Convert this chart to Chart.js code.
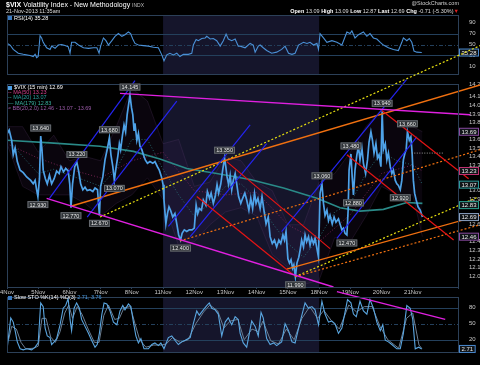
<!DOCTYPE html>
<html><head><meta charset="utf-8">
<script src="https://cdn.jsdelivr.net/npm/chart.js@4.4.0/dist/chart.umd.min.js"></script>
<style>
html,body{margin:0;padding:0;background:#000;width:480px;height:365px;overflow:hidden;font-family:"Liberation Sans",Arial,sans-serif;}
.c{position:absolute;left:0;}
.t{position:absolute;white-space:nowrap;color:#fff;z-index:10;line-height:1;}
.ico{display:inline-block;width:4px;height:4px;margin-right:2px;vertical-align:middle;}
</style></head><body>
<div class="c" style="top:0;z-index:1"><canvas id="rsi" width="480" height="86"></canvas></div>
<div class="c" style="top:0;z-index:2"><canvas id="price" width="480" height="297"></canvas></div>
<div class="c" style="top:280px;z-index:3"><canvas id="sto" width="480" height="85"></canvas></div>

<div class="t" style="left:6px;top:1px;font-size:7px;"><b>$VIX</b> Volatility Index - New Methodology <span style="font-size:5px;color:#bbb">INDX</span></div>
<div class="t" style="left:6px;top:9px;font-size:5.5px;color:#ddd;">21-Nov-2013 11:35am</div>
<div class="t" style="right:21px;top:1px;font-size:5.5px;color:#ccc;">@StockCharts.com</div>
<div class="t" style="right:21px;top:8.5px;font-size:5.5px;color:#ddd;"><b style="color:#fff">Open</b> 13.09 <b style="color:#fff">High</b> 13.09 <b style="color:#fff">Low</b> 12.87 <b style="color:#fff">Last</b> 12.69 <b style="color:#fff">Chg</b> -0.71 (-5.30%)<span style="color:#e02020">&#9660;</span></div>

<div class="t" style="left:8px;top:15.5px;font-size:5.5px;"><span class="ico" style="background:#3a7ac0"></span>RSI(14) 35.28</div>

<div class="t" style="left:8px;top:85px;font-size:5.5px;line-height:5.2px;">
<div><span class="ico" style="background:#4a9ee6"></span>$VIX (15 min) 12.69</div>
<div style="color:#d0408a">-- MA(50) 13.23</div>
<div style="color:#2aa0a0">-- MA(20) 13.07</div>
<div style="color:#3ab0a0">&#8212; MA(179) 12.83</div>
<div style="color:#9a5aa8">&#8776; BB(20,2.0) 12.46 - 13.07 - 13.69</div>
</div>

<div class="t" style="left:8px;top:295px;font-size:5.5px;"><span class="ico" style="background:#3a7ac0"></span>Slow STO %K(14) %D(3) <span style="color:#4a9ee6">2.71, 3.76</span></div>

<script>
const FONT = '"Liberation Sans", Arial, sans-serif';

// ---------- DATA ----------
const xLabels = ['4Nov','5Nov','6Nov','7Nov','8Nov','11Nov','12Nov','13Nov','14Nov','15Nov','18Nov','19Nov','20Nov','21Nov','22Nov'];
const shadeDays = [5, 10];

const vixPrice = [[0.01,13.67],[0.07,13.71],[0.15,13.59],[0.20,13.42],[0.26,13.50],[0.33,13.34],[0.42,13.24],[0.52,13.21],[0.63,13.16],[0.76,13.12],[0.84,13.08],[0.90,13.12],[0.95,13.01],[0.99,12.93],[1.04,13.14],[1.08,13.64],[1.12,13.48],[1.16,13.24],[1.23,13.14],[1.29,13.08],[1.36,13.18],[1.43,13.08],[1.51,13.14],[1.59,13.23],[1.67,13.20],[1.73,13.28],[1.81,13.22],[1.88,13.26],[1.96,13.23],[2.01,13.08],[2.05,12.80],[2.10,13.08],[2.17,13.28],[2.24,13.33],[2.30,13.22],[2.36,13.08],[2.43,13.01],[2.50,13.04],[2.57,13.00],[2.66,13.01],[2.75,12.99],[2.82,13.03],[2.90,13.01],[2.96,12.71],[3.00,13.05],[3.07,13.16],[3.14,13.36],[3.22,13.50],[3.28,13.62],[3.33,13.42],[3.39,13.28],[3.44,13.12],[3.49,13.26],[3.55,13.40],[3.60,13.55],[3.64,13.48],[3.70,13.65],[3.75,13.77],[3.80,13.69],[3.85,13.89],[3.90,14.02],[3.94,14.12],[3.99,13.97],[4.03,13.89],[4.07,13.71],[4.10,13.79],[4.16,13.59],[4.21,13.67],[4.26,13.52],[4.32,13.48],[4.37,13.42],[4.43,13.36],[4.50,13.32],[4.58,13.34],[4.67,13.32],[4.74,13.34],[4.82,13.28],[4.88,13.24],[4.95,13.16],[5.00,13.07],[5.03,12.89],[5.09,12.61],[5.14,12.73],[5.19,12.81],[5.24,12.77],[5.31,12.69],[5.38,12.73],[5.44,12.61],[5.50,12.48],[5.56,12.42],[5.61,12.50],[5.68,12.54],[5.76,12.52],[5.84,12.54],[5.93,12.54],[6.00,12.56],[6.06,12.83],[6.11,12.73],[6.16,12.79],[6.23,12.77],[6.29,12.89],[6.37,12.83],[6.42,12.99],[6.49,12.91],[6.54,12.97],[6.61,12.85],[6.67,12.93],[6.73,13.07],[6.78,12.97],[6.85,13.08],[6.91,13.24],[6.97,13.38],[7.01,13.28],[7.05,13.16],[7.10,13.07],[7.15,13.18],[7.20,13.01],[7.25,13.12],[7.31,13.20],[7.36,13.08],[7.42,12.93],[7.49,12.85],[7.55,12.91],[7.62,12.97],[7.68,12.89],[7.75,12.77],[7.81,12.91],[7.87,12.79],[7.93,12.97],[7.98,12.85],[8.04,12.91],[8.11,12.79],[8.17,12.93],[8.24,12.75],[8.30,12.61],[8.37,12.69],[8.43,12.46],[8.50,12.38],[8.57,12.42],[8.64,12.34],[8.71,12.42],[8.77,12.38],[8.84,12.48],[8.89,12.42],[8.94,12.52],[9.00,12.20],[9.05,12.15],[9.10,12.19],[9.15,12.09],[9.19,12.13],[9.24,11.99],[9.29,12.15],[9.35,12.22],[9.39,12.30],[9.44,12.42],[9.50,12.34],[9.55,12.48],[9.60,12.40],[9.66,12.46],[9.71,12.36],[9.76,12.44],[9.82,12.38],[9.87,12.44],[9.92,12.34],[9.98,12.22],[10.03,12.97],[10.09,13.08],[10.14,12.85],[10.19,12.71],[10.25,12.77],[10.30,12.65],[10.35,12.71],[10.42,12.61],[10.48,12.69],[10.54,12.63],[10.62,12.67],[10.67,12.61],[10.73,12.54],[10.78,12.56],[10.83,12.50],[10.89,12.48],[10.93,12.77],[10.96,13.24],[11.02,13.43],[11.06,13.16],[11.10,12.95],[11.15,13.24],[11.21,13.42],[11.26,13.52],[11.31,13.36],[11.37,13.50],[11.42,13.32],[11.49,13.20],[11.55,13.36],[11.60,13.57],[11.66,13.69],[11.71,13.59],[11.76,13.44],[11.82,13.55],[11.87,13.38],[11.92,13.42],[11.98,13.28],[12.02,13.93],[12.06,13.48],[12.12,13.55],[12.17,13.36],[12.22,13.44],[12.28,13.28],[12.33,13.20],[12.38,13.24],[12.44,13.12],[12.49,13.08],[12.54,13.06],[12.60,13.01],[12.65,13.12],[12.70,13.36],[12.75,13.44],[12.79,13.48],[12.83,13.69],[12.89,13.59],[12.94,13.63],[12.98,13.44],[13.02,13.12],[13.06,12.97],[13.11,12.89],[13.17,12.81],[13.24,12.77],[13.31,12.69]];

const ma179 = [[0,13.59],[1.38,13.56],[2.98,13.52],[4.05,13.46],[4.90,13.37],[5.76,13.26],[6.72,13.20],[7.79,13.13],[8.86,13.03],[9.93,12.91],[10.67,12.80],[11.31,12.76],[12.06,12.78],[12.81,12.86],[13.31,12.85]];
const ma50 = [[0,13.55],[1,13.38],[2,13.25],[3,13.15],[4,13.35],[5,13.45],[6,13.00],[7,12.95],[8,12.98],[9,12.60],[10,12.40],[11,12.72],[12,13.20],[13,13.30],[13.31,13.23]];
const ma20 = [[0,13.62],[0.5,13.40],[1,13.20],[1.5,13.25],[2,13.18],[2.5,13.12],[3,13.05],[3.5,13.25],[4,13.60],[4.5,13.60],[5,13.25],[5.5,12.95],[6,12.70],[6.5,12.85],[7,13.05],[7.5,13.08],[8,12.90],[8.5,12.62],[9,12.38],[9.5,12.22],[10,12.45],[10.5,12.75],[11,12.85],[11.5,13.20],[12,13.45],[12.5,13.35],[13,13.30],[13.31,13.07]];
const bbUpper = [[0,13.75],[0.5,13.75],[1,13.45],[1.5,13.65],[2,13.35],[2.5,13.40],[3,13.35],[3.5,13.75],[4,14.20],[4.5,14.05],[5,13.55],[5.5,13.60],[6,13.05],[6.5,13.10],[7,13.40],[7.5,13.35],[8,13.10],[8.5,13.00],[9,12.60],[9.5,12.60],[10,13.10],[10.5,13.20],[11,13.45],[11.5,13.75],[12,13.95],[12.5,13.80],[13,13.75],[13.31,13.69]];
const bbLower = [[0,13.55],[0.5,13.05],[1,12.95],[1.5,12.95],[2,12.95],[2.5,12.85],[3,12.70],[3.5,12.85],[4,12.95],[4.5,13.15],[5,12.90],[5.5,12.35],[6,12.40],[6.5,12.60],[7,12.75],[7.5,12.80],[8,12.70],[8.5,12.25],[9,12.10],[9.5,11.90],[10,11.95],[10.5,12.45],[11,12.40],[11.5,12.70],[12,13.05],[12.5,12.95],[13,12.95],[13.31,12.46]];

// trend-line endpoints [day, price]
const magentaLines = [[[3.62,14.14],[14.84,13.89]], [[1.27,12.91],[10.46,11.87]]];
const blueLines = [[[1.36,12.91],[4.10,14.29]], [[2.57,12.69],[5.44,14.05]], [[5.17,12.58],[7.79,13.77]], [[5.87,12.46],[8.32,13.55]], [[8.80,12.52],[12.80,14.30]], [[10.57,12.44],[13.13,13.63]]];
const redLines = [[[6.08,12.93],[9.18,12.01]], [[7.04,13.34],[10.35,12.32]], [[10.89,13.42],[14.31,12.42]], [[12.01,13.94],[14.79,13.14]]];
const orangeLines = [[[2.07,12.82],[15.16,14.24]], [[8.96,12.08],[15.16,12.71]]];
const orangeDotLines = [[[5.54,12.41],[15.16,13.48]], [[9.23,11.99],[15.16,12.60]]];
const yellowDotLines = [[[2.98,12.69],[15.16,14.70]], [[9.23,11.99],[15.06,12.92]]];
const grayDotLines = [[[12.97,13.44],[14.0,13.44]]];

const peakLabels = [[0.99,12.93,'12.930',-1],[1.08,13.64,'13.640',1],[2.05,12.80,'12.770',-1],[2.24,13.33,'13.220',1],[2.96,12.71,'12.670',-1],[3.28,13.62,'13.680',1],[3.44,13.12,'13.070',-1],[3.94,14.12,'14.145',1],[5.56,12.42,'12.400',-1],[6.97,13.38,'13.350',1],[9.24,11.99,'11.990',-1],[10.09,13.08,'13.060',1],[10.89,12.48,'12.470',-1],[11.02,13.43,'13.480',1],[11.10,12.95,'12.880',-1],[12.02,13.93,'13.940',1],[12.60,13.01,'12.920',-1],[12.83,13.69,'13.660',1]];
const priceMarks = [[13.69,'13.69','#8a4aa0'],[13.23,'13.23','#c03070'],[13.07,'13.07','#2a9a9a'],[12.83,'12.83','#2aa090'],[12.69,'12.69','#8aa0c0'],[12.46,'12.46','#8a4aa0']];

const rsiValues = [[0.01,52],[0.10,49],[0.20,41],[0.36,34],[0.52,32],[0.74,30],[0.84,28],[0.90,32],[0.95,26],[1.00,28],[1.06,66],[1.11,62],[1.16,54],[1.27,44],[1.38,41],[1.43,47],[1.54,43],[1.64,49],[1.75,50],[1.86,48],[1.96,46],[2.02,34],[2.07,54],[2.18,54],[2.29,49],[2.45,44],[2.61,43],[2.77,44],[2.88,44],[2.95,34],[3.00,47],[3.09,62],[3.17,57],[3.25,49],[3.36,57],[3.46,65],[3.57,70],[3.68,65],[3.78,68],[3.89,73],[3.96,70],[4.03,60],[4.10,52],[4.21,49],[4.37,48],[4.53,47],[4.69,45],[4.85,44],[4.96,31],[5.03,20],[5.12,31],[5.22,34],[5.33,31],[5.44,34],[5.54,28],[5.65,32],[5.81,32],[5.92,34],[5.97,49],[6.06,59],[6.13,57],[6.24,61],[6.35,62],[6.40,65],[6.51,60],[6.61,61],[6.72,57],[6.83,47],[6.93,57],[7.02,69],[7.09,60],[7.20,57],[7.31,60],[7.41,47],[7.47,47],[7.63,44],[7.79,52],[7.89,49],[7.95,36],[8.05,47],[8.11,49],[8.21,44],[8.32,39],[8.48,34],[8.64,36],[8.80,41],[8.91,47],[9.02,34],[9.13,32],[9.23,34],[9.34,49],[9.50,54],[9.61,52],[9.71,54],[9.82,49],[9.93,52],[9.98,41],[10.03,70],[10.14,62],[10.25,54],[10.41,57],[10.57,54],[10.73,49],[10.89,73],[10.99,70],[11.05,75],[11.15,62],[11.26,68],[11.42,73],[11.53,65],[11.63,70],[11.74,62],[11.85,60],[11.96,54],[12.06,49],[12.22,44],[12.38,41],[12.54,39],[12.65,54],[12.70,62],[12.81,57],[12.89,61],[12.97,54],[13.04,38],[13.13,36],[13.29,35.28]];
const rsiTicks = [10,30,50,70,90];
const rsiMarks = [[35.28,'35.28','#4a8ad0']];

const stoK = [[0.01,6],[0.12,61],[0.20,53],[0.26,37],[0.33,16],[0.42,3],[0.52,1],[0.63,3],[0.79,1],[0.90,6],[1.00,14],[1.08,89],[1.16,82],[1.22,42],[1.29,27],[1.38,24],[1.43,11],[1.51,16],[1.59,22],[1.70,48],[1.80,79],[1.88,84],[1.96,97],[2.02,58],[2.07,37],[2.15,79],[2.23,89],[2.32,79],[2.39,58],[2.50,45],[2.61,32],[2.71,19],[2.82,6],[2.89,11],[2.96,32],[3.04,68],[3.11,89],[3.20,87],[3.30,74],[3.41,53],[3.52,48],[3.62,74],[3.71,84],[3.78,76],[3.89,87],[3.97,82],[4.05,53],[4.13,27],[4.21,14],[4.29,22],[4.39,3],[4.53,3],[4.64,11],[4.74,14],[4.85,9],[4.93,14],[5.03,3],[5.17,24],[5.28,27],[5.38,19],[5.49,11],[5.60,16],[5.71,19],[5.87,24],[5.97,50],[6.08,74],[6.16,66],[6.29,76],[6.40,84],[6.48,89],[6.56,79],[6.67,76],[6.77,68],[6.88,27],[6.99,53],[7.09,61],[7.20,48],[7.31,63],[7.41,58],[7.47,32],[7.57,14],[7.68,6],[7.84,55],[7.95,45],[8.05,27],[8.14,71],[8.21,61],[8.32,22],[8.43,11],[8.54,14],[8.64,9],[8.80,16],[8.91,50],[9.02,37],[9.13,16],[9.23,14],[9.39,53],[9.55,89],[9.66,79],[9.77,82],[9.87,76],[9.98,48],[10.09,92],[10.19,68],[10.30,53],[10.41,55],[10.51,50],[10.62,32],[10.73,42],[10.91,95],[11.02,89],[11.10,68],[11.19,63],[11.31,92],[11.42,74],[11.53,68],[11.63,95],[11.74,79],[11.85,53],[11.96,37],[12.04,48],[12.12,19],[12.22,16],[12.33,11],[12.49,3],[12.60,3],[12.70,32],[12.81,84],[12.92,79],[13.00,58],[13.08,3],[13.19,6],[13.29,2.71]];
const stoD = [[0.05,20],[0.15,45],[0.30,40],[0.45,15],[0.60,3],[0.85,4],[1.00,8],[1.12,60],[1.25,60],[1.40,25],[1.55,15],[1.70,35],[1.85,70],[1.98,85],[2.10,60],[2.25,82],[2.40,68],[2.60,40],[2.80,15],[2.95,15],[3.10,65],[3.25,85],[3.45,58],[3.60,60],[3.75,80],[3.95,82],[4.10,50],[4.25,20],[4.45,6],[4.70,10],[4.95,10],[5.10,12],[5.30,24],[5.55,15],[5.80,20],[6.05,50],[6.30,72],[6.50,85],[6.75,74],[6.95,42],[7.15,55],[7.40,58],[7.60,20],[7.85,40],[8.05,35],[8.20,55],[8.45,18],[8.70,12],[8.95,40],[9.20,20],[9.45,60],[9.70,82],[9.95,60],[10.15,75],[10.40,55],[10.65,40],[10.95,85],[11.20,72],[11.45,82],[11.70,82],[11.95,45],[12.20,20],[12.55,4],[12.80,60],[13.00,70],[13.20,10],[13.29,3.76]];
const stoTicks = [20,50,80];
const stoMarks = [[2.71,'2.71','#4a8ad0']];
const stoMagentaLines = [[[10.57,110],[14.04,58]]];

// ---------- RENDERING ----------
const pts = a => a.map(([x,y]) => ({x,y}));
const seg = (l, color, dash, w) => ({data: pts(l), borderColor: color, borderWidth: w || 1.2, borderDash: dash || [], pointRadius: 0, clip: false, fill: false, tension: 0});
const line = (a, color, w, extra) => Object.assign({data: pts(a), borderColor: color, borderWidth: w, pointRadius: 0, fill: false, tension: 0}, extra || {});

const panelPlugin = {
  id: 'panel',
  beforeDatasetsDraw(chart, args, o) {
    const {ctx, chartArea: a} = chart; const x = chart.scales.x, y = chart.scales.y;
    ctx.save();
    const x0 = x.getPixelForValue(shadeDays[0]), x1 = x.getPixelForValue(shadeDays[1]);
    ctx.fillStyle = '#15152b';
    ctx.fillRect(x0, a.top, x1 - x0, a.bottom - a.top);
    (o.levels || []).forEach(l => {
      const py = Math.round(y.getPixelForValue(l[0])) + 0.5;
      ctx.strokeStyle = '#24405c'; ctx.lineWidth = 1; ctx.setLineDash(l[1] ? [4,2,1,2] : []);
      ctx.beginPath(); ctx.moveTo(a.left, py); ctx.lineTo(a.right, py); ctx.stroke();
    });
    ctx.restore();
  },
  afterDraw(chart, args, o) {
    const {ctx, chartArea: a} = chart; const x = chart.scales.x, y = chart.scales.y;
    ctx.save();
    ctx.strokeStyle = '#2c4058'; ctx.lineWidth = 1;
    ctx.strokeRect(Math.round(a.left) + 0.5, Math.round(a.top) + 0.5, Math.round(a.right - a.left), Math.round(a.bottom - a.top));
    ctx.font = '5.5px ' + FONT; ctx.textBaseline = 'middle';
    (o.labels || []).forEach(([d, v, t, s]) => {
      const px = x.getPixelForValue(d), py = y.getPixelForValue(v) - s * 8;
      const w = ctx.measureText(t).width + 4;
      ctx.fillStyle = '#2e3236'; ctx.strokeStyle = '#666a70';
      ctx.fillRect(px - w / 2, py - 3.5, w, 7); ctx.strokeRect(px - w / 2 + 0.5, py - 3.5 + 0.5, w - 1, 6);
      ctx.fillStyle = '#e8e8e8'; ctx.textAlign = 'center'; ctx.fillText(t, px, py + 0.5);
    });
    ctx.font = '6px ' + FONT;
    (o.marks || []).forEach(([v, t, c]) => {
      const py = y.getPixelForValue(v);
      const w = ctx.measureText(t).width + 4;
      ctx.fillStyle = '#101418'; ctx.strokeStyle = c; ctx.lineWidth = 1;
      ctx.fillRect(a.right + 1.5, py - 3.5, w, 7); ctx.strokeRect(a.right + 1.5, py - 3.5, w, 7);
      ctx.fillStyle = '#e8e8e8'; ctx.textAlign = 'left'; ctx.fillText(t, a.right + 3.5, py + 0.5);
    });
    ctx.restore();
  }
};
Chart.register(panelPlugin);

const xAxis = show => ({
  type: 'linear', min: 0, max: 14.45, display: show,
  grid: {display: show, drawOnChartArea: false, color: '#2c4058', tickLength: 2},
  border: {display: false},
  ticks: {stepSize: 1, autoSkip: false, maxRotation: 0, color: '#c8c8c8', padding: 0, font: {size: 6, family: FONT},
    callback: v => (Number.isInteger(v) && xLabels[v]) ? xLabels[v] : ''},
  afterFit: s => { s.height = 10; }
});
const yAxis = (min, max, extra) => Object.assign({
  type: 'linear', position: 'right', min, max,
  grid: {display: false}, border: {display: false},
  afterFit: s => { s.width = 22; }
}, extra);
const tickStyle = {color: '#c8c8c8', padding: 3, font: {size: 6, family: FONT}, autoSkip: false};
const baseOpts = (pad, scales, panel) => ({
  responsive: false, animation: false, devicePixelRatio: 1,
  layout: {padding: pad},
  plugins: {legend: {display: false}, tooltip: {enabled: false}, panel},
  scales
});

// RSI panel
new Chart(document.getElementById('rsi'), {
  type: 'line',
  data: {datasets: [line(rsiValues, '#4a90d6', 1.1)]},
  options: baseOpts({left: 7, top: 15, bottom: 2, right: 0},
    {x: xAxis(false), y: yAxis(-4, 104, {ticks: tickStyle, afterBuildTicks: s => { s.ticks = rsiTicks.map(v => ({value: v})); }})},
    {levels: [[70, 0], [30, 0], [50, 1]], marks: rsiMarks})
});

// Price panel
const dsPrice = [];
magentaLines.forEach(l => dsPrice.push(seg(l, '#e020e0', null, 1.4)));
redLines.forEach(l => dsPrice.push(seg(l, '#e41414', null, 1.2)));
blueLines.forEach(l => dsPrice.push(seg(l, '#2424f0', null, 1.2)));
orangeLines.forEach(l => dsPrice.push(seg(l, '#f07010', null, 1.4)));
orangeDotLines.forEach(l => dsPrice.push(seg(l, '#f07010', [2, 2], 1.2)));
yellowDotLines.forEach(l => dsPrice.push(seg(l, '#e8e010', [2, 2], 1.2)));
grayDotLines.forEach(l => dsPrice.push(seg(l, '#9a9a9a', [1, 1.5], 1)));
dsPrice.push(line(vixPrice, '#4ea2e8', 1.7));
dsPrice.push(line(ma179, '#2a8a88', 1.6));
dsPrice.push(line(ma20, '#2a7a80', 0.8, {borderDash: [1, 2]}));
dsPrice.push(line(ma50, '#8a2a60', 0.8, {borderDash: [1, 2]}));
dsPrice.push(line(bbUpper, 'rgba(110,70,130,0.35)', 0.6, {fill: '+1', backgroundColor: 'rgba(60,30,80,0.16)'}));
dsPrice.push(line(bbLower, 'rgba(110,70,130,0.35)', 0.6));

const hideNear = v => priceMarks.some(m => Math.abs(m[0] - v) < 0.045);
new Chart(document.getElementById('price'), {
  type: 'line',
  data: {datasets: dsPrice},
  options: baseOpts({left: 7, top: 84, bottom: 0, right: 0},
    {x: xAxis(true), y: yAxis(11.87, 14.25, {ticks: Object.assign({}, tickStyle, {stepSize: 0.1,
      callback: v => (v < 11.995 || hideNear(v)) ? '' : v.toFixed(2)})})},
    {labels: peakLabels, marks: priceMarks})
});

// Slow STO panel
const dsSto = [];
stoMagentaLines.forEach(l => dsSto.push(seg(l, '#e020e0', null, 1.3)));
dsSto.push(line(stoK, '#5aa6e0', 1.1));
dsSto.push(line(stoD, '#6c7e92', 1.0));
new Chart(document.getElementById('sto'), {
  type: 'line',
  data: {datasets: dsSto},
  options: baseOpts({left: 7, top: 17, bottom: 3, right: 0},
    {x: xAxis(false), y: yAxis(-3, 100, {ticks: tickStyle, afterBuildTicks: s => { s.ticks = stoTicks.map(v => ({value: v})); }})},
    {levels: [[80, 0], [20, 0], [50, 1]], marks: stoMarks})
});
</script>
</body></html>
